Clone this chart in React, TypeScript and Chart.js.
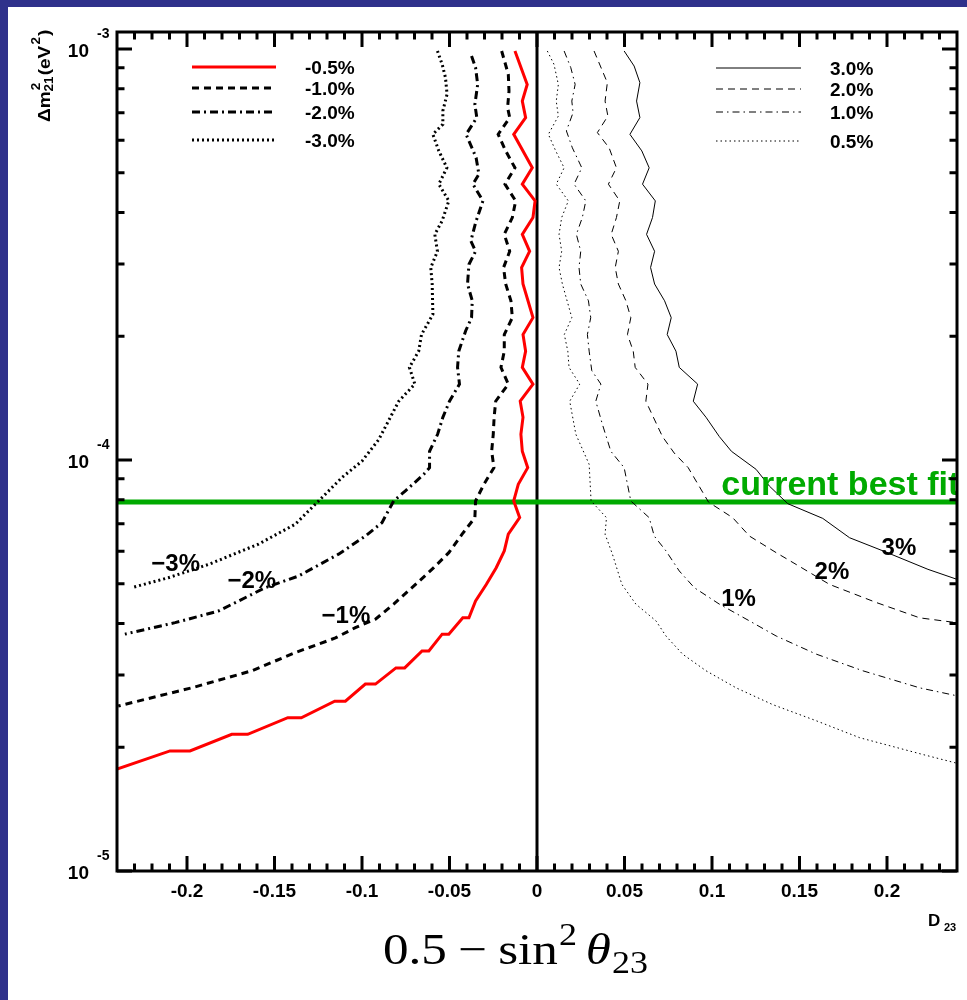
import React, { useEffect, useRef } from "react";
import { Chart, registerables } from "chart.js";

Chart.register(...registerables);

// ---------- axis ranges & ticks ----------
const X_MIN = -0.24;
const X_MAX = 0.24;
const Y_MIN = 1e-5;
const Y_MAX = 1.1e-3;

const xMajorTicks = [-0.2, -0.15, -0.1, -0.05, 0, 0.05, 0.1, 0.15, 0.2];
const xTickLabels = ["-0.2", "-0.15", "-0.1", "-0.05", "0", "0.05", "0.1", "0.15", "0.2"];
const yDecadeTicks = [1e-5, 1e-4, 1e-3];
const yDecadeExponents = ["-5", "-4", "-3"];
const yMinorMultipliers = [2, 3, 4, 5, 6, 7, 8, 9];

const bestFitDm2 = 7.9e-5;

// ---------- contour series (x = 0.5 - sin^2 theta23, y = dm2_21 in eV^2) ----------
const m05X = [-0.0126, -0.0056, -0.0084, -0.0065, -0.0133, -0.0027, -0.0084, -0.0011, -0.0023, -0.0084, -0.0042, -0.0088, -0.008, -0.0023, -0.008, -0.0065, -0.0084, -0.0023, -0.0096, -0.008, -0.0092, -0.0084, -0.0053, -0.0107, -0.0133, -0.0099, -0.0164, -0.0187, -0.0233, -0.029, -0.0351, -0.0389, -0.0424, -0.0504, -0.0542, -0.0618, -0.0657, -0.0756, -0.0806, -0.0923, -0.0981, -0.1095, -0.1156, -0.1347, -0.1424, -0.1653, -0.1744, -0.1983, -0.2097, -0.24];
const m05Y = [9.89e-4, 8.2e-4, 7.47e-4, 6.81e-4, 6.2e-4, 5.14e-4, 4.69e-4, 4.27e-4, 3.89e-4, 3.54e-4, 3.22e-4, 2.94e-4, 2.68e-4, 2.22e-4, 2.02e-4, 1.84e-4, 1.68e-4, 1.53e-4, 1.39e-4, 1.27e-4, 1.155e-4, 1.05e-4, 9.58e-5, 8.73e-5, 7.95e-5, 7.24e-5, 6.6e-5, 6.01e-5, 5.47e-5, 4.98e-5, 4.54e-5, 4.13e-5, 4.13e-5, 3.77e-5, 3.77e-5, 3.43e-5, 3.43e-5, 3.12e-5, 3.12e-5, 2.85e-5, 2.85e-5, 2.59e-5, 2.59e-5, 2.36e-5, 2.36e-5, 2.15e-5, 2.15e-5, 1.96e-5, 1.96e-5, 1.77e-5];

const m10X = [-0.0202, -0.0164, -0.016, -0.0168, -0.0156, -0.0222, -0.0179, -0.0126, -0.0183, -0.0122, -0.0141, -0.0187, -0.0156, -0.0191, -0.0179, -0.0149, -0.0141, -0.0187, -0.0187, -0.0206, -0.0164, -0.0236, -0.0245, -0.025, -0.0259, -0.0246, -0.0303, -0.0351, -0.0355, -0.0428, -0.0504, -0.059, -0.0694, -0.0819, -0.0923, -0.1038, -0.1152, -0.1381, -0.163, -0.1973, -0.2202, -0.2393];
const m10Y = [9.89e-4, 8.68e-4, 7.9e-4, 7.2e-4, 6.81e-4, 6.2e-4, 5.65e-4, 5.14e-4, 4.69e-4, 4.27e-4, 3.89e-4, 3.54e-4, 3.22e-4, 2.94e-4, 2.68e-4, 2.44e-4, 2.22e-4, 2.02e-4, 1.84e-4, 1.68e-4, 1.53e-4, 1.39e-4, 1.27e-4, 1.155e-4, 1.05e-4, 9.58e-5, 8.73e-5, 7.95e-5, 7.24e-5, 6.6e-5, 5.95e-5, 5.47e-5, 4.98e-5, 4.46e-5, 4.1e-5, 3.91e-5, 3.69e-5, 3.4e-5, 3.07e-5, 2.79e-5, 2.64e-5, 2.52e-5];

const m20X = [-0.0374, -0.0351, -0.0339, -0.0355, -0.0344, -0.0405, -0.0348, -0.0332, -0.0366, -0.0309, -0.0351, -0.0378, -0.0351, -0.0389, -0.0397, -0.037, -0.0374, -0.0408, -0.0447, -0.0454, -0.0443, -0.05, -0.0538, -0.0568, -0.0614, -0.0614, -0.0647, -0.0752, -0.0819, -0.0886, -0.0981, -0.1134, -0.1363, -0.1553, -0.1821, -0.2068, -0.2355];
const m20Y = [9.62e-4, 9.01e-4, 8.2e-4, 7.33e-4, 6.81e-4, 6.2e-4, 5.44e-4, 4.96e-4, 4.69e-4, 4.27e-4, 3.78e-4, 3.41e-4, 3.22e-4, 2.99e-4, 2.68e-4, 2.44e-4, 2.22e-4, 2.06e-4, 1.84e-4, 1.68e-4, 1.53e-4, 1.39e-4, 1.27e-4, 1.155e-4, 1.05e-4, 9.58e-5, 9.23e-5, 8.41e-5, 7.95e-5, 7.04e-5, 6.53e-5, 5.9e-5, 5.22e-5, 4.89e-5, 4.29e-5, 4.02e-5, 3.77e-5];

const m30X = [-0.0569, -0.0542, -0.0523, -0.0514, -0.0538, -0.0538, -0.0595, -0.0561, -0.0515, -0.0561, -0.0504, -0.0542, -0.0584, -0.0569, -0.0607, -0.0599, -0.0595, -0.066, -0.0676, -0.0729, -0.0698, -0.079, -0.0905, -0.1, -0.1115, -0.1248, -0.1381, -0.1592, -0.1878, -0.2107, -0.2317];
const m30Y = [9.89e-4, 9.18e-4, 8.52e-4, 7.76e-4, 7.07e-4, 6.56e-4, 6.2e-4, 5.65e-4, 5.14e-4, 4.69e-4, 4.27e-4, 3.82e-4, 3.54e-4, 3.22e-4, 2.94e-4, 2.68e-4, 2.26e-4, 2.02e-4, 1.84e-4, 1.68e-4, 1.53e-4, 1.39e-4, 1.12e-4, 9.94e-5, 9.06e-5, 7.95e-5, 6.98e-5, 6.24e-5, 5.57e-5, 5.17e-5, 4.89e-5];

const p05X = [0.0059, 0.0097, 0.0122, 0.011, 0.0122, 0.0065, 0.0107, 0.0155, 0.011, 0.0179, 0.0141, 0.0126, 0.0141, 0.0126, 0.0145, 0.0199, 0.0156, 0.0176, 0.0183, 0.0244, 0.0187, 0.0222, 0.0298, 0.0309, 0.0397, 0.0389, 0.0431, 0.0485, 0.0565, 0.068, 0.0737, 0.0832, 0.0966, 0.1138, 0.1347, 0.1596, 0.1844, 0.2206, 0.2397];
const p05Y = [9.89e-4, 9.18e-4, 8.2e-4, 7.47e-4, 6.87e-4, 6.2e-4, 5.65e-4, 5.14e-4, 4.69e-4, 4.27e-4, 3.89e-4, 3.54e-4, 3.22e-4, 2.94e-4, 2.68e-4, 2.22e-4, 2.02e-4, 1.84e-4, 1.68e-4, 1.53e-4, 1.39e-4, 1.155e-4, 9.76e-5, 7.95e-5, 7.24e-5, 6.6e-5, 5.9e-5, 4.98e-5, 4.46e-5, 4.06e-5, 3.73e-5, 3.37e-5, 3.07e-5, 2.79e-5, 2.54e-5, 2.32e-5, 2.11e-5, 1.92e-5, 1.83e-5];

const p10X = [0.0155, 0.0193, 0.0218, 0.0199, 0.0206, 0.0168, 0.0202, 0.0256, 0.0212, 0.0279, 0.0259, 0.0225, 0.025, 0.024, 0.025, 0.0294, 0.0307, 0.0288, 0.0298, 0.0313, 0.0365, 0.0336, 0.0374, 0.0422, 0.0498, 0.0536, 0.0641, 0.067, 0.0737, 0.0813, 0.0899, 0.1042, 0.1214, 0.1367, 0.1596, 0.1862, 0.2187, 0.2397];
const p10Y = [9.89e-4, 9.01e-4, 8.2e-4, 7.47e-4, 7.0e-4, 6.32e-4, 5.75e-4, 5.14e-4, 4.69e-4, 4.27e-4, 3.89e-4, 3.54e-4, 3.22e-4, 2.94e-4, 2.68e-4, 2.44e-4, 2.22e-4, 2.02e-4, 1.84e-4, 1.65e-4, 1.53e-4, 1.39e-4, 1.22e-4, 1.05e-4, 9.58e-5, 7.95e-5, 7.24e-5, 6.53e-5, 6.01e-5, 5.37e-5, 4.89e-5, 4.46e-5, 4.06e-5, 3.73e-5, 3.37e-5, 3.07e-5, 2.79e-5, 2.67e-5];

const p20X = [0.0326, 0.0402, 0.0389, 0.0405, 0.0345, 0.0412, 0.0454, 0.0408, 0.0473, 0.0454, 0.0424, 0.0465, 0.0447, 0.0465, 0.0508, 0.0536, 0.0517, 0.055, 0.0561, 0.0634, 0.0622, 0.0717, 0.0784, 0.0864, 0.098, 0.1118, 0.1214, 0.1367, 0.1481, 0.1672, 0.1939, 0.2187, 0.2397];
const p20Y = [9.89e-4, 8.28e-4, 7.47e-4, 6.87e-4, 6.26e-4, 5.75e-4, 5.14e-4, 4.69e-4, 4.27e-4, 3.89e-4, 3.54e-4, 3.22e-4, 2.94e-4, 2.68e-4, 2.44e-4, 2.22e-4, 2.02e-4, 1.84e-4, 1.68e-4, 1.53e-4, 1.39e-4, 1.14e-4, 1.04e-4, 9.58e-5, 7.9e-5, 7.24e-5, 6.53e-5, 5.95e-5, 5.57e-5, 4.98e-5, 4.5e-5, 4.13e-5, 4.02e-5];

const p30X = [0.0498, 0.0555, 0.0588, 0.0569, 0.0588, 0.0531, 0.0599, 0.0641, 0.0603, 0.0676, 0.066, 0.0626, 0.0672, 0.0649, 0.0672, 0.0729, 0.0767, 0.0744, 0.0794, 0.0813, 0.0918, 0.0893, 0.0966, 0.1042, 0.1111, 0.1252, 0.1328, 0.1433, 0.1633, 0.1786, 0.1977, 0.2234, 0.2397];
const p30Y = [9.89e-4, 9.09e-4, 8.28e-4, 7.47e-4, 6.81e-4, 6.2e-4, 5.65e-4, 5.14e-4, 4.69e-4, 4.27e-4, 3.89e-4, 3.54e-4, 3.22e-4, 2.94e-4, 2.68e-4, 2.44e-4, 2.22e-4, 2.02e-4, 1.84e-4, 1.68e-4, 1.53e-4, 1.39e-4, 1.27e-4, 1.14e-4, 1.05e-4, 9.49e-5, 8.64e-5, 7.83e-5, 7.21e-5, 6.47e-5, 6.01e-5, 5.42e-5, 5.13e-5];

// legend labels
const legendLeftLabels = ["-0.5%", "-1.0%", "-2.0%", "-3.0%"];
const legendRightLabels = ["3.0%", "2.0%", "1.0%", "0.5%"];

// in-plot contour labels (anchored in data coordinates)
const contourLabelText = ["\u22123%", "\u22122%", "\u22121%", "3%", "2%", "1%"];
const contourLabelX = [-0.2204, -0.1769, -0.1231, 0.1969, 0.1586, 0.1053];
const contourLabelY = [5.37e-5, 4.88e-5, 4.01e-5, 5.87e-5, 5.13e-5, 4.41e-5];
const bestFitLabel = "current best fit";
const bestFitLabelX = 0.1053;
const bestFitLabelY = 8.22e-5;

// ---------- styles ----------
const BLUE = "#2f318b";
const GREEN = "#00aa00";
const RED = "#ff0000";
const SANS = "'Liberation Sans', Arial, Helvetica, sans-serif";
const SERIF = "'Liberation Serif', 'DejaVu Serif', 'Times New Roman', serif";

type LineStyle = { color: string; width: number; dash: number[] };
const leftStyles: LineStyle[] = [
  { color: RED, width: 3, dash: [] },
  { color: "#000", width: 3, dash: [7, 5] },
  { color: "#000", width: 3, dash: [8, 4, 2, 4] },
  { color: "#000", width: 3, dash: [2, 3] },
];
const rightStyles: LineStyle[] = [
  { color: "#000", width: 1, dash: [] },
  { color: "#000", width: 1, dash: [7, 5] },
  { color: "#000", width: 1, dash: [7, 4, 1.5, 4] },
  { color: "#000", width: 1, dash: [1.5, 3] },
];

const toPts = (xs: number[], ys: number[]) => xs.map((x, i) => ({ x, y: ys[i] }));

function lineDs(label: string, pts: { x: number; y: number }[], st: LineStyle) {
  return {
    label,
    data: pts,
    showLine: true,
    pointRadius: 0,
    fill: false,
    tension: 0,
    borderColor: st.color,
    borderWidth: st.width,
    borderDash: st.dash,
    borderCapStyle: "butt",
    borderJoinStyle: "miter",
  };
}

function txt(
  ctx: CanvasRenderingContext2D,
  s: string,
  x: number,
  y: number,
  font: string,
  align: "left" | "center" | "right" = "left",
  color = "#000",
  sx = 1
) {
  ctx.save();
  ctx.font = font;
  ctx.fillStyle = color;
  ctx.textAlign = "left";
  ctx.textBaseline = "alphabetic";
  const w = ctx.measureText(s).width * sx;
  const left = align === "center" ? x - w / 2 : align === "right" ? x - w : x;
  ctx.translate(left, y);
  ctx.scale(sx, 1);
  ctx.fillText(s, 0, 0);
  ctx.restore();
}

const decor = {
  id: "decor",
  beforeDraw(chart: any) {
    const ctx: CanvasRenderingContext2D = chart.ctx;
    ctx.save();
    ctx.fillStyle = BLUE;
    ctx.fillRect(0, 0, chart.width, chart.height);
    ctx.fillStyle = "#ffffff";
    ctx.fillRect(8, 7, chart.width - 8, chart.height - 7);
    ctx.restore();
  },
  afterDraw(chart: any) {
    const ctx: CanvasRenderingContext2D = chart.ctx;
    const a = chart.chartArea;
    const xs = chart.scales.x;
    const ys = chart.scales.y;

    // best-fit label, clipped to plot area
    ctx.save();
    ctx.beginPath();
    ctx.rect(a.left, a.top, a.right - a.left, a.bottom - a.top);
    ctx.clip();
    txt(ctx, bestFitLabel, xs.getPixelForValue(bestFitLabelX), ys.getPixelForValue(bestFitLabelY), `bold 34px ${SANS}`, "left", GREEN);
    ctx.restore();

    // contour labels
    contourLabelText.forEach((s, i) => {
      txt(ctx, s, xs.getPixelForValue(contourLabelX[i]), ys.getPixelForValue(contourLabelY[i]), `bold 24px ${SANS}`);
    });

    // frame
    ctx.save();
    ctx.setLineDash([]);
    ctx.strokeStyle = "#000";
    ctx.lineWidth = 3;
    ctx.strokeRect(a.left, a.top, a.right - a.left, a.bottom - a.top);

    // x ticks
    ctx.beginPath();
    for (let i = -23; i <= 23; i++) {
      const v = i / 100;
      const major = i % 5 === 0;
      const len = major ? 15 : 7.5;
      const px = xs.getPixelForValue(v);
      ctx.moveTo(px, a.bottom);
      ctx.lineTo(px, a.bottom - len);
      ctx.moveTo(px, a.top);
      ctx.lineTo(px, a.top + len);
    }
    // y ticks
    yDecadeTicks.forEach((d) => {
      const py = ys.getPixelForValue(d);
      ctx.moveTo(a.left, py);
      ctx.lineTo(a.left + 15, py);
      ctx.moveTo(a.right, py);
      ctx.lineTo(a.right - 15, py);
    });
    [1e-5, 1e-4].forEach((d) => {
      yMinorMultipliers.forEach((m) => {
        const py = ys.getPixelForValue(m * d);
        ctx.moveTo(a.left, py);
        ctx.lineTo(a.left + 7.5, py);
        ctx.moveTo(a.right, py);
        ctx.lineTo(a.right - 7.5, py);
      });
    });
    ctx.stroke();
    ctx.restore();

    // x tick labels
    xMajorTicks.forEach((v, i) => {
      txt(ctx, xTickLabels[i], xs.getPixelForValue(v), a.bottom + 26, `bold 19px ${SANS}`, "center");
    });
    // y tick labels
    yDecadeTicks.forEach((d, i) => {
      const py = ys.getPixelForValue(d);
      txt(ctx, "10", a.left - 28, py + 8, `bold 19px ${SANS}`, "right");
      txt(ctx, yDecadeExponents[i], a.left - 20, py - 11, `bold 14px ${SANS}`, "left");
    });

    // legends
    const drawLeg = (x0: number, x1: number, tx: number, rows: number[], labels: string[], styles: LineStyle[]) => {
      rows.forEach((y, i) => {
        const st = styles[i];
        ctx.save();
        ctx.strokeStyle = st.color;
        ctx.lineWidth = st.width;
        ctx.setLineDash(st.dash);
        ctx.beginPath();
        ctx.moveTo(x0, y);
        ctx.lineTo(x1, y);
        ctx.stroke();
        ctx.restore();
        txt(ctx, labels[i], tx, y + 7, `bold 19px ${SANS}`);
      });
    };
    drawLeg(192, 276, 305, [67, 88, 112, 140], legendLeftLabels, leftStyles);
    drawLeg(716, 801, 830, [68, 89, 112, 141], legendRightLabels, rightStyles);

    // y-axis title (rotated)
    ctx.save();
    ctx.translate(50, 122);
    ctx.rotate(-Math.PI / 2);
    ctx.scale(1.12, 1);
    ctx.fillStyle = "#000";
    let cx = 0;
    const big = `bold 17px ${SANS}`;
    const small = `bold 12px ${SANS}`;
    ctx.font = big;
    ctx.fillText("\u0394m", cx, 0);
    cx += ctx.measureText("\u0394m").width;
    ctx.font = small;
    ctx.fillText("2", cx + 1, -10);
    ctx.fillText("21", cx, 3);
    cx += ctx.measureText("21").width + 1;
    ctx.font = big;
    ctx.fillText("(eV", cx, 0);
    cx += ctx.measureText("(eV").width;
    ctx.font = small;
    ctx.fillText("2", cx + 1, -10);
    cx += ctx.measureText("2").width + 2;
    ctx.font = big;
    ctx.fillText(")", cx, 0);
    ctx.restore();

    // D23 label
    txt(ctx, "D", 928, 926, `bold 17px ${SANS}`);
    txt(ctx, "23", 944, 931, `bold 11px ${SANS}`);

    // math x title: 0.5 − sin² θ23
    const bigF = 44;
    const smF = 31;
    const pieces = [
      { s: "0.5", font: `${bigF}px ${SERIF}`, dy: 0, gap: 0.22 * bigF },
      { s: "\u2212", font: `${bigF}px ${SERIF}`, dy: 0, gap: 0.22 * bigF },
      { s: "sin", font: `${bigF}px ${SERIF}`, dy: 0, gap: 1 },
      { s: "2", font: `${smF}px ${SERIF}`, dy: -19, gap: 0.17 * bigF },
      { s: "\u03b8", font: `italic ${bigF}px ${SERIF}`, dy: 0, gap: 1 },
      { s: "23", font: `${smF}px ${SERIF}`, dy: 9, gap: 0 },
    ];
    ctx.save();
    let total = 0;
    const widths = pieces.map((p) => {
      ctx.font = p.font;
      const w = ctx.measureText(p.s).width;
      total += w + p.gap;
      return w;
    });
    const sx = 265 / total;
    ctx.translate(383, 964);
    ctx.scale(sx, 1);
    ctx.fillStyle = "#000";
    ctx.textBaseline = "alphabetic";
    let px = 0;
    pieces.forEach((p, i) => {
      ctx.font = p.font;
      ctx.fillText(p.s, px, p.dy);
      px += widths[i] + p.gap;
    });
    ctx.restore();
  },
};

export default function App() {
  const ref = useRef<HTMLCanvasElement>(null);
  useEffect(() => {
    if (!ref.current) return;
    const datasets: any[] = [
      lineDs("-0.5%", toPts(m05X, m05Y), leftStyles[0]),
      lineDs("-1.0%", toPts(m10X, m10Y), leftStyles[1]),
      lineDs("-2.0%", toPts(m20X, m20Y), leftStyles[2]),
      lineDs("-3.0%", toPts(m30X, m30Y), leftStyles[3]),
      lineDs("3.0%", toPts(p30X, p30Y), rightStyles[0]),
      lineDs("2.0%", toPts(p20X, p20Y), rightStyles[1]),
      lineDs("1.0%", toPts(p10X, p10Y), rightStyles[2]),
      lineDs("0.5%", toPts(p05X, p05Y), rightStyles[3]),
      lineDs("best fit", [{ x: X_MIN, y: bestFitDm2 }, { x: X_MAX, y: bestFitDm2 }], { color: GREEN, width: 5, dash: [] }),
      lineDs("zero", [{ x: 0, y: Y_MIN }, { x: 0, y: Y_MAX }], { color: "#000", width: 3, dash: [] }),
    ];
    const chart = new Chart(ref.current, {
      type: "scatter",
      data: { datasets },
      options: {
        responsive: false,
        maintainAspectRatio: false,
        animation: false,
        devicePixelRatio: 1,
        layout: { padding: { left: 117, top: 32, right: 10, bottom: 129 } },
        plugins: { legend: { display: false }, tooltip: { enabled: false } },
        scales: {
          x: { type: "linear", min: X_MIN, max: X_MAX, display: false },
          y: { type: "logarithmic", min: Y_MIN, max: Y_MAX, display: false },
        },
      },
      plugins: [decor],
    } as any);
    return () => chart.destroy();
  }, []);
  return (
    <div style={{ position: "absolute", left: 0, top: 0, width: 967, height: 1000, overflow: "hidden" }}>
      <canvas ref={ref} width={967} height={1000} style={{ display: "block", width: 967, height: 1000 }} />
    </div>
  );
}
